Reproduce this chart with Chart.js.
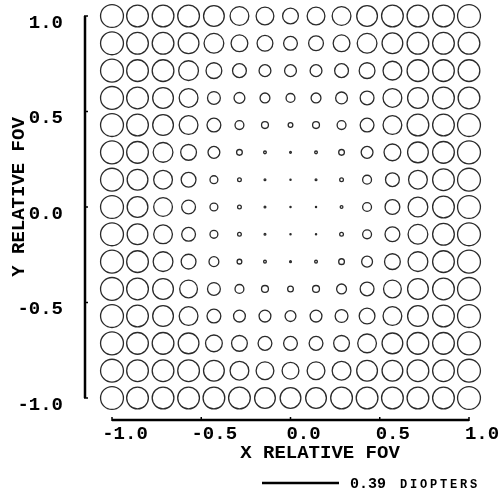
<!DOCTYPE html>
<html>
<head>
<meta charset="utf-8">
<script src="https://cdn.jsdelivr.net/npm/chart.js@4.4.1/dist/chart.umd.min.js"></script>
<style>
  html,body{margin:0;padding:0;background:#fff;}
  #c{display:block;}
</style>
</head>
<body>
<canvas id="c" width="502" height="496"></canvas>
<script>
/* ---------------- data ---------------- */
// field points (relative FOV)
const xField = [-1.0,-0.857,-0.714,-0.571,-0.429,-0.286,-0.143,0.0,0.143,0.286,0.429,0.571,0.714,0.857,1.0];
const yField = [1.0,0.857,0.714,0.571,0.429,0.286,0.143,0.0,-0.143,-0.286,-0.429,-0.571,-0.714,-0.857,-1.0];

// blur diameter in diopters, one row per yField value (top to bottom)
const defocus = [
  [.122,.116,.116,.116,.111,.101,.096,.086,.096,.101,.111,.116,.116,.116,.122],
  [.122,.116,.116,.111,.106,.091,.086,.076,.081,.091,.106,.111,.116,.116,.116],
  [.122,.116,.116,.106,.086,.076,.066,.066,.066,.076,.086,.101,.116,.116,.116],
  [.122,.116,.111,.101,.071,.061,.056,.051,.056,.066,.076,.101,.111,.116,.116],
  [.122,.116,.111,.101,.076,.051,.041,.030,.041,.051,.076,.101,.116,.116,.122],
  [.122,.116,.106,.086,.066,.035,.020,.015,.020,.035,.066,.091,.111,.116,.122],
  [.122,.111,.101,.081,.046,.025,.015,.005,.015,.025,.051,.076,.101,.116,.122],
  [.122,.111,.101,.076,.046,.025,.015,.005,.010,.020,.051,.081,.106,.116,.122],
  [.122,.111,.101,.076,.046,.025,.015,.005,.010,.025,.051,.081,.106,.116,.122],
  [.122,.116,.106,.081,.056,.030,.020,.015,.020,.035,.061,.086,.106,.116,.122],
  [.122,.116,.111,.096,.071,.051,.041,.035,.041,.056,.076,.096,.111,.116,.122],
  [.122,.116,.111,.101,.076,.066,.066,.061,.066,.071,.086,.101,.111,.116,.122],
  [.122,.116,.116,.111,.091,.086,.076,.076,.076,.086,.101,.111,.116,.116,.122],
  [.122,.116,.116,.116,.111,.101,.096,.091,.096,.101,.111,.111,.116,.116,.122],
  [.122,.116,.116,.116,.116,.116,.111,.111,.111,.116,.116,.116,.116,.116,.122]
];

const axisTicks  = [-1.0,-0.5,0.0,0.5,1.0];
const xTitle     = 'X RELATIVE FOV';
const yTitle     = 'Y RELATIVE FOV';
const barDiopter = 0.39;
const barUnit    = 'DIOPTERS';

/* ---------------- styling ---------------- */
const MONO   = '"Liberation Mono","DejaVu Sans Mono",monospace';
const BAR_PX = 77;                    // length of the scale bar
const PX_PER_D = BAR_PX / barDiopter;

const points = [];
yField.forEach((yv,j)=>xField.forEach((xv,i)=>points.push({x:xv,y:yv,d:defocus[j][i]})));

const fixTicks = s => { s.ticks = axisTicks.map(v=>({value:v})); };

/* axis frame, titles and scale bar */
const framePlugin = {
  id:'frame',
  afterDraw(chart){
    const {ctx, scales:{x,y}} = chart;
    const ax = 85, ay = 420;
    ctx.save();
    ctx.strokeStyle = '#000';
    ctx.lineWidth = 2.5;
    ctx.beginPath();
    ctx.moveTo(ax, y.getPixelForValue(1)); ctx.lineTo(ax, y.getPixelForValue(-1));
    ctx.moveTo(x.getPixelForValue(-1), ay); ctx.lineTo(x.getPixelForValue(1), ay);
    ctx.stroke();
    ctx.lineWidth = 1.5;
    ctx.beginPath();
    axisTicks.forEach(v=>{
      const py = y.getPixelForValue(v), px = x.getPixelForValue(v);
      ctx.moveTo(ax-1, py); ctx.lineTo(ax+3, py);
      ctx.moveTo(px, ay+1); ctx.lineTo(px, ay-3);
    });
    ctx.stroke();

    ctx.fillStyle = '#000';
    ctx.font = 'bold 19px ' + MONO;
    ctx.textAlign = 'center';
    ctx.textBaseline = 'middle';
    ctx.fillText(xTitle, 320, 453);
    ctx.save();
    ctx.translate(19, 197);
    ctx.rotate(-Math.PI/2);
    ctx.fillText(yTitle, 0, 0);
    ctx.restore();

    // scale bar
    ctx.lineWidth = 2.5;
    ctx.beginPath();
    ctx.moveTo(262, 483); ctx.lineTo(262 + BAR_PX, 483);
    ctx.stroke();
    ctx.textAlign = 'left';
    ctx.textBaseline = 'alphabetic';
    ctx.font = 'bold 15px ' + MONO;
    ctx.fillText(barDiopter.toFixed(2), 350, 488);
    ctx.font = 'bold 12px ' + MONO;
    ctx.letterSpacing = '2.8px';
    ctx.fillText(barUnit, 400, 488);
    ctx.restore();
  }
};

/* ---------------- chart ---------------- */
new Chart(document.getElementById('c'), {
  type:'scatter',
  data:{ datasets:[{
    data: points,
    clip: false,
    backgroundColor:'rgba(0,0,0,0)',
    borderColor:'#2a2a2a',
    borderWidth:1.3,
    pointRadius: c => Math.max(0.6, c.raw.d*PX_PER_D/2 - 0.6),
    pointHoverRadius: c => Math.max(0.6, c.raw.d*PX_PER_D/2 - 0.6)
  }]},
  options:{
    responsive:false,
    animation:false,
    devicePixelRatio:1,
    events:[],
    layout:{padding:{top:16,right:33,left:0,bottom:0}},
    plugins:{legend:{display:false}, tooltip:{enabled:false}},
    scales:{
      x:{
        type:'linear', min:-1, max:1,
        afterBuildTicks: fixTicks,
        afterFit: s => { s.height = 98; s.paddingLeft = 0; s.paddingRight = 0; },
        grid:{display:false, drawTicks:false}, border:{display:false},
        ticks:{
          color:'#000', padding:25, labelOffset:13, maxRotation:0, autoSkip:false,
          font:{family:MONO, size:19, weight:'bold'},
          callback: v => v.toFixed(1)
        }
      },
      y:{
        type:'linear', min:-1, max:1,
        afterBuildTicks: fixTicks,
        afterFit: s => { s.width = 112; s.paddingTop = 0; s.paddingBottom = 0; },
        grid:{display:false, drawTicks:false}, border:{display:false},
        ticks:{
          color:'#000', padding:49, labelOffset:7, autoSkip:false,
          font:{family:MONO, size:19, weight:'bold'},
          callback: v => v.toFixed(1)
        }
      }
    }
  },
  plugins:[framePlugin]
});
</script>
</body>
</html>
